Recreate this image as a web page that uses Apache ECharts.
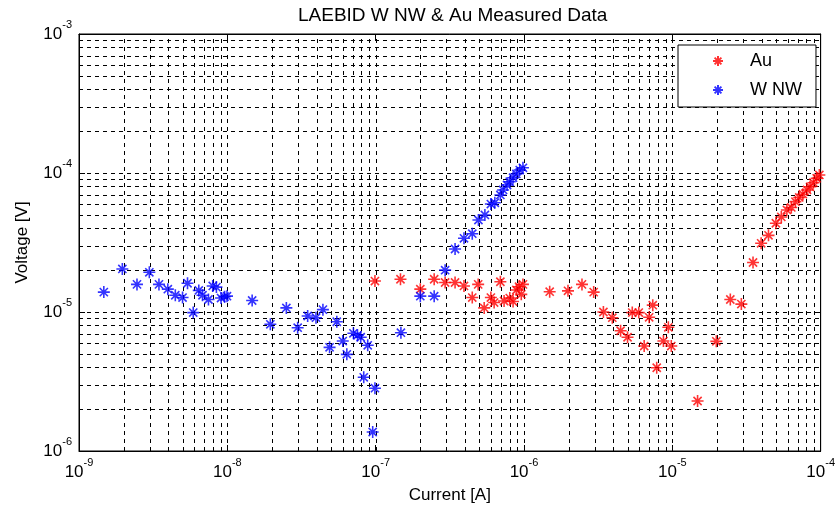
<!DOCTYPE html>
<html>
<head>
<meta charset="utf-8">
<script src="https://cdn.jsdelivr.net/npm/echarts@6/dist/echarts.min.js"></script>
<style>
html,body{margin:0;padding:0;background:#fff;}
#chart{width:838px;height:516px;}
</style>
</head>
<body>
<div id="chart"></div>
<script>
// ---- data (Current [A], Voltage [V]) ----
const auCurrent = [9.89e-8, 1.47e-7, 2.00e-7, 2.48e-7, 2.94e-7, 3.43e-7, 3.94e-7, 4.48e-7, 4.91e-7, 5.39e-7,
  5.98e-7, 6.29e-7, 6.93e-7, 7.34e-7, 8.02e-7, 8.44e-7, 8.88e-7, 9.26e-7, 9.59e-7, 9.84e-7,
  1.49e-6, 1.98e-6, 2.46e-6, 2.95e-6, 3.43e-6, 3.94e-6, 4.48e-6, 4.99e-6, 5.37e-6, 5.94e-6,
  6.46e-6, 6.98e-6, 7.38e-6, 7.85e-6, 8.71e-6, 9.40e-6, 9.84e-6, 1.48e-5, 1.98e-5, 2.46e-5,
  2.92e-5, 3.50e-5, 3.97e-5, 4.45e-5, 4.99e-5, 5.43e-5, 5.92e-5, 6.34e-5, 6.76e-5, 7.17e-5,
  7.59e-5, 8.09e-5, 8.48e-5, 8.93e-5, 9.40e-5, 9.80e-5];
const auVoltage = [1.67e-5, 1.72e-5, 1.46e-5, 1.72e-5, 1.63e-5, 1.63e-5, 1.54e-5, 1.27e-5, 1.58e-5, 1.07e-5,
  1.27e-5, 1.17e-5, 1.65e-5, 1.20e-5, 1.26e-5, 1.19e-5, 1.44e-5, 1.52e-5, 1.34e-5, 1.58e-5,
  1.40e-5, 1.42e-5, 1.58e-5, 1.39e-5, 1.00e-5, 9.10e-6, 7.33e-6, 6.58e-6, 9.90e-6, 9.90e-6,
  5.69e-6, 9.16e-6, 1.12e-5, 3.97e-6, 6.18e-6, 7.76e-6, 5.69e-6, 2.29e-6, 6.15e-6, 1.23e-5,
  1.14e-5, 2.27e-5, 3.12e-5, 3.56e-5, 4.35e-5, 4.83e-5, 5.42e-5, 5.65e-5, 6.22e-5, 6.67e-5,
  7.04e-5, 7.55e-5, 7.96e-5, 8.51e-5, 9.16e-5, 9.68e-5];

const wnwCurrent = [1.47e-9, 1.96e-9, 2.46e-9, 2.98e-9, 3.46e-9, 3.97e-9, 4.46e-9, 4.99e-9, 5.39e-9, 5.89e-9,
  6.42e-9, 6.80e-9, 7.46e-9, 7.97e-9, 8.44e-9, 9.07e-9, 9.59e-9, 9.95e-9, 1.47e-8, 1.95e-8,
  2.50e-8, 2.98e-8, 3.48e-8, 3.96e-8, 4.41e-8, 4.89e-8, 5.47e-8, 6.00e-8, 6.39e-8, 7.08e-8,
  7.54e-8, 7.93e-8, 8.31e-8, 8.84e-8, 9.55e-8, 9.89e-8, 1.48e-7, 2.00e-7, 2.48e-7, 2.94e-7,
  3.43e-7, 3.94e-7, 4.48e-7, 4.93e-7, 5.45e-7, 5.98e-7, 6.36e-7, 6.93e-7, 7.23e-7, 7.69e-7,
  8.02e-7, 8.44e-7, 8.88e-7, 9.36e-7, 9.84e-7];
const wnwVoltage = [1.39e-5, 2.04e-5, 1.58e-5, 1.93e-5, 1.58e-5, 1.46e-5, 1.32e-5, 1.27e-5, 1.61e-5, 9.90e-6,
  1.43e-5, 1.32e-5, 1.23e-5, 1.54e-5, 1.51e-5, 1.26e-5, 1.29e-5, 1.30e-5, 1.21e-5, 8.16e-6,
  1.07e-5, 7.71e-6, 9.36e-6, 9.10e-6, 1.04e-5, 5.57e-6, 8.51e-6, 6.18e-6, 4.96e-6, 7.03e-6,
  6.80e-6, 6.58e-6, 3.39e-6, 5.76e-6, 1.37e-6, 2.83e-6, 7.10e-6, 1.30e-5, 1.30e-5, 2.00e-5,
  2.84e-5, 3.39e-5, 3.66e-5, 4.59e-5, 4.99e-5, 5.98e-5, 6.11e-5, 6.95e-5, 7.55e-5, 8.20e-5,
  8.66e-5, 9.25e-5, 9.84e-5, 1.05e-4, 1.09e-4];

// axis extents (decade exponents) and tick exponents
const xExponents = [-9, -8, -7, -6, -5, -4];
const yExponents = [-6, -5, -4, -3];
const minorMultipliers = [2, 3, 4, 5, 6, 7, 8, 9];

const seriesNames = ['Au', 'W NW'];
const seriesColors = ['#ff0000', '#0000ff'];
const titleText = 'LAEBID W NW & Au Measured Data';
const xName = 'Current [A]';
const yName = 'Voltage [V]';

// ---- build ----
const FONT = 'Liberation Sans, Arial, sans-serif';
const star = 'path://M5,0L5,10M0,5L10,5M1.6,1.6L8.4,8.4M1.6,8.4L8.4,1.6';

function zip(a, b) { return a.map((v, i) => [v, b[i]]); }

const xMin = Math.pow(10, xExponents[0]), xMax = Math.pow(10, xExponents[xExponents.length - 1]);
const yMin = Math.pow(10, yExponents[0]), yMax = Math.pow(10, yExponents[yExponents.length - 1]);

const xGridVals = [], yGridVals = [];
xExponents.forEach((e, i) => {
  if (i > 0 && i < xExponents.length - 1) xGridVals.push(Math.pow(10, e));
  if (i < xExponents.length - 1) minorMultipliers.forEach(m => xGridVals.push(m * Math.pow(10, e)));
});
yExponents.forEach((e, i) => {
  if (i > 0 && i < yExponents.length - 1) yGridVals.push(Math.pow(10, e));
  if (i < yExponents.length - 1) minorMultipliers.forEach(m => yGridVals.push(m * Math.pow(10, e)));
});

function expLabel(v) {
  const e = Math.round(Math.log10(v));
  return '{b|10}{s|' + e + '}';
}
const richLabel = {
  b: { fontSize: 17, fontFamily: FONT, color: '#000', lineHeight: 30 },
  s: { fontSize: 11, fontFamily: FONT, color: '#000', lineHeight: 12, verticalAlign: 'top' }
};

const baseAxis = {
  type: 'log', logBase: 10,
  axisLine: { show: true, lineStyle: { color: '#000', width: 1 } },
  axisTick: { show: true, inside: true, length: 6, lineStyle: { color: '#000' } },
  splitLine: { show: false },
  minorTick: { show: false },
};

const gridStyle = { stroke: '#000', lineWidth: 1, lineDash: [4, 4] };

function vLine(params, api) {
  const v = api.value(0);
  const p1 = api.coord([v, yMin]);
  const p2 = api.coord([v, yMax]);
  const x = Math.round(p1[0]) + 0.5;
  return { type: 'line', shape: { x1: x, y1: p1[1], x2: x, y2: p2[1] }, style: gridStyle, silent: true };
}
function hLine(params, api) {
  const v = api.value(1);
  const p1 = api.coord([xMin, v]);
  const p2 = api.coord([xMax, v]);
  const y = Math.round(p1[1]) + 0.5;
  return { type: 'line', shape: { x1: p1[0], y1: y, x2: p2[0], y2: y }, style: gridStyle, silent: true };
}

const chart = echarts.init(document.getElementById('chart'), null, { renderer: 'canvas' });
chart.setOption({
  backgroundColor: '#fff',
  animation: false,
  title: {
    text: titleText, left: 293, top: 1,
    textStyle: { fontFamily: FONT, fontSize: 19, fontWeight: 'normal', color: '#000' }
  },
  grid: { left: 79, right: 14, top: 34, bottom: 65, show: true, borderColor: '#000', borderWidth: 1, backgroundColor: '#fff' },
  legend: {
    data: seriesNames,
    orient: 'vertical',
    left: 678, top: 45,
    padding: [7, 14, 8, 34],
    itemWidth: 54, itemHeight: 10, itemGap: 11,
    backgroundColor: '#fff', borderColor: '#000', borderWidth: 1,
    textStyle: { fontFamily: FONT, fontSize: 18, color: '#000', lineHeight: 16 }
  },
  xAxis: [
    Object.assign({}, baseAxis, {
      min: xMin, max: xMax, splitNumber: xExponents.length - 1,
      name: xName, nameLocation: 'middle', nameGap: 36,
      nameTextStyle: { fontFamily: FONT, fontSize: 17, color: '#000' },
      axisLabel: { formatter: expLabel, rich: richLabel, margin: 6 }
    }),
    Object.assign({}, baseAxis, {
      position: 'top', min: xMin, max: xMax, splitNumber: xExponents.length - 1,
      axisLabel: { show: false }
    })
  ],
  yAxis: [
    Object.assign({}, baseAxis, {
      min: yMin, max: yMax, splitNumber: yExponents.length - 1,
      name: yName, nameLocation: 'middle', nameGap: 48,
      nameTextStyle: { fontFamily: FONT, fontSize: 17, color: '#000' },
      axisLabel: { formatter: expLabel, rich: richLabel, margin: 7 }
    }),
    Object.assign({}, baseAxis, {
      position: 'right', min: yMin, max: yMax, splitNumber: yExponents.length - 1,
      axisLabel: { show: false }
    })
  ],
  series: [
    {
      name: 'xgrid', type: 'custom', silent: true, z: 1,
      renderItem: vLine,
      data: xGridVals.map(v => [v, yMin])
    },
    {
      name: 'ygrid', type: 'custom', silent: true, z: 1,
      renderItem: hLine,
      data: yGridVals.map(v => [xMin, v])
    },
    {
      name: seriesNames[0], type: 'scatter', symbol: star, symbolSize: 12,
      itemStyle: { color: seriesColors[0], borderColor: seriesColors[0], borderWidth: 1.6 },
      data: zip(auCurrent, auVoltage), z: 3
    },
    {
      name: seriesNames[1], type: 'scatter', symbol: star, symbolSize: 12,
      itemStyle: { color: seriesColors[1], borderColor: seriesColors[1], borderWidth: 1.6 },
      data: zip(wnwCurrent, wnwVoltage), z: 4
    }
  ]
});
</script>
</body>
</html>
